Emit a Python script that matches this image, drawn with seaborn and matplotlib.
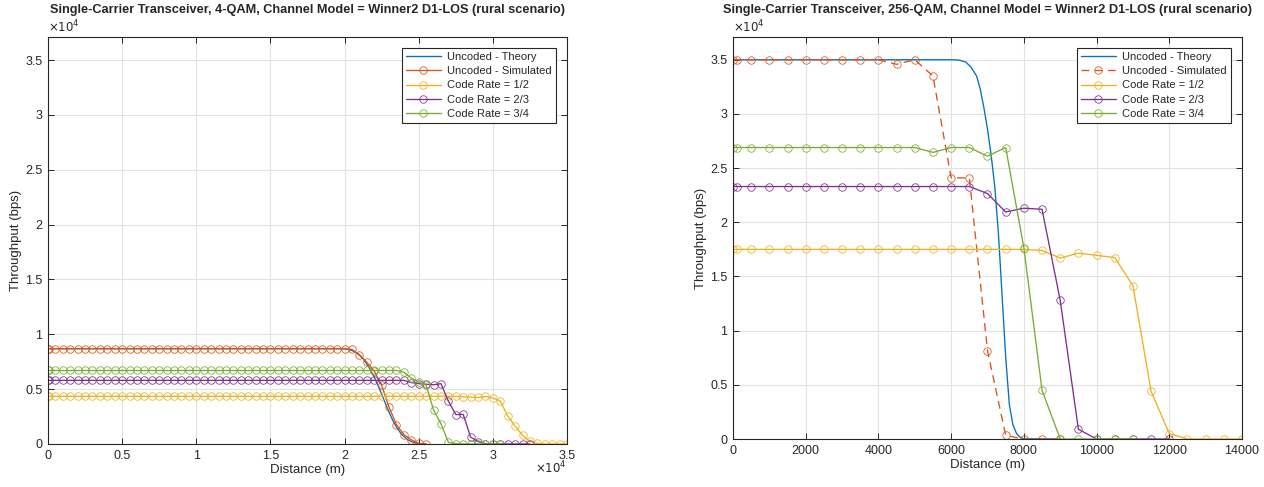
import numpy as np
import pandas as pd
import matplotlib
matplotlib.use("Agg")
import matplotlib.pyplot as plt
import seaborn as sns
from matplotlib.ticker import FuncFormatter, MultipleLocator

# ---------------- data: 4-QAM (left) ----------------
dist_4qam = [0, 100] + list(range(500, 35001, 500))

theory_4qam_dist = [0, 19000, 19500, 20000, 20250, 20500, 20750, 21000, 21250, 21500,
                    21750, 22000, 22250, 22500, 22750, 23000, 23250, 23500, 23750,
                    24000, 24250, 24500, 24750, 25000, 25500]
theory_4qam = [8690, 8690, 8690, 8670, 8620, 8520, 8350, 8100, 7750, 7300,
               6750, 6100, 5350, 4550, 3700, 2900, 2150, 1550, 1050,
               680, 400, 220, 110, 50, 0]

sim_4qam = [8690] * 42 + [8620, 8150, 7450, 6650, 5350, 3350, 1750, 850, 380, 50, 0]
r12_4qam = [4350] * 57 + [4300, 4280, 4240, 4330, 4200, 3920, 2560, 1650, 780, 230, 50,
                          0, 0, 0, 0]
r23_4qam = [5800] * 50 + [5600, 5500, 5450, 5400, 5500, 3900, 2680, 2700, 630, 220, 30,
                          0, 0, 0, 0, 0, 0]
r34_4qam = [6700] * 49 + [6550, 6000, 5650, 5350, 3100, 1850, 150, 30,
                          0, 0, 0, 0, 0, 0]

# ---------------- data: 256-QAM (right) ----------------
dist_256 = [0, 100] + list(range(500, 14001, 500))

theory_256_dist = [0, 6000, 6200, 6400, 6550, 6700, 6800, 6900, 7000, 7100, 7200,
                   7300, 7400, 7500, 7600, 7700, 7800, 7900, 8000, 9000]
theory_256 = [35000, 35000, 34980, 34800, 34300, 33500, 32300, 30600, 28600, 26200,
              23300, 19000, 13300, 7600, 3200, 1300, 500, 150, 20, 0]

sim_256 = [35000] * 10 + [34580, 35000, 33500, 24100, 24100, 8150, 330, 0, 0, 0]
r12_256 = [17500] * 17 + [17500, 17400, 16700, 17150, 16950, 16750, 14150, 4400, 500,
                          0, 0, 0, 0]
r23_256 = [23300] * 15 + [22650, 20950, 21300, 21200, 12800, 900, 0, 0, 0, 0, 0]
r34_256 = [26900] * 12 + [26450, 26900, 26900, 26100, 26900, 17650, 4500, 0, 0, 0, 0, 0]

labels = ["Uncoded - Theory", "Uncoded - Simulated", "Code Rate = 1/2",
          "Code Rate = 2/3", "Code Rate = 3/4"]
colors = ["#0072BD", "#D95319", "#EDB120", "#7E2F8E", "#77AC30"]

titles = ["Single-Carrier Transceiver, 4-QAM, Channel Model = Winner2 D1-LOS (rural scenario)",
          "Single-Carrier Transceiver, 256-QAM, Channel Model = Winner2 D1-LOS (rural scenario)"]

# ---------------- style ----------------
sns.set_theme(style="ticks")
plt.rcParams["font.family"] = ["Liberation Sans", "DejaVu Sans"]
plt.rcParams["axes.edgecolor"] = "#262626"
plt.rcParams["xtick.color"] = "#262626"
plt.rcParams["ytick.color"] = "#262626"

fig = plt.figure(figsize=(12.64, 4.87), dpi=100)
axL = fig.add_axes([48 / 1264, 1 - 444 / 487, (567 - 48) / 1264, (444 - 37) / 487])
axR = fig.add_axes([733 / 1264, 1 - 439 / 487, (1242 - 733) / 1264, (439 - 37) / 487])


def draw(ax, th_d, th_v, d, sim, r12, r23, r34, dashed_sim):
    sns.lineplot(x=th_d, y=th_v, ax=ax, color=colors[0], lw=0.95, label=labels[0],
                 estimator=None, sort=False)
    series = [sim, r12, r23, r34]
    for i, vals in enumerate(series):
        c = colors[i + 1]
        ls = (0, (6, 4)) if (i == 0 and dashed_sim) else "-"
        sns.lineplot(x=d[:len(vals)], y=vals, ax=ax, color=c, lw=0.95, label=labels[i + 1],
                     marker="o", markersize=5.4, markerfacecolor="none",
                     markeredgecolor=c, markeredgewidth=0.55, linestyle=ls,
                     estimator=None, sort=False)


draw(axL, theory_4qam_dist, theory_4qam, dist_4qam, sim_4qam, r12_4qam, r23_4qam,
     r34_4qam, False)
draw(axR, theory_256_dist, theory_256, dist_256, sim_256, r12_256, r23_256, r34_256, True)

fmt_e4 = FuncFormatter(lambda v, p: f"{v / 1e4:g}")

for ax, title in zip([axL, axR], titles):
    ax.set_ylim(0, 37100)
    ax.yaxis.set_major_locator(MultipleLocator(5000))
    ax.yaxis.set_major_formatter(fmt_e4)
    ax.grid(True, color="#e2e2e2", lw=0.8)
    ax.set_axisbelow(True)
    for s in ax.spines.values():
        s.set_linewidth(0.8)
        s.set_visible(True)
    ax.tick_params(direction="in", top=True, right=True, length=4, width=0.7,
                   labelsize=9, pad=4)
    ax.set_xlabel("Distance (m)", fontsize=9.5, labelpad=2)
    ax.set_ylabel("Throughput (bps)", fontsize=9.5, labelpad=2)
    ax.set_title(title, fontsize=9.2, fontweight="bold", pad=17)
    ax.text(0.0, 1.012, r"$\times10^{4}$", transform=ax.transAxes, ha="left",
            va="baseline", fontsize=8.5, color="#262626")
    leg = ax.legend(loc="upper right", fontsize=8.0, frameon=True, fancybox=False,
                    edgecolor="#262626", framealpha=1, borderaxespad=0.95,
                    handlelength=3.1, borderpad=0.4, labelspacing=0.38,
                    handletextpad=0.6)
    leg.get_frame().set_linewidth(0.8)

axL.set_xlim(0, 35000)
axL.xaxis.set_major_locator(MultipleLocator(5000))
axL.xaxis.set_major_formatter(fmt_e4)
axL.text(1.0, -0.038, r"$\times10^{4}$", transform=axL.transAxes, ha="right",
         va="top", fontsize=8.5, color="#262626")

axR.set_xlim(0, 14000)
axR.xaxis.set_major_locator(MultipleLocator(2000))
axR.xaxis.set_major_formatter(FuncFormatter(lambda v, p: f"{v:.0f}"))

fig.savefig("out.png", dpi=100)
